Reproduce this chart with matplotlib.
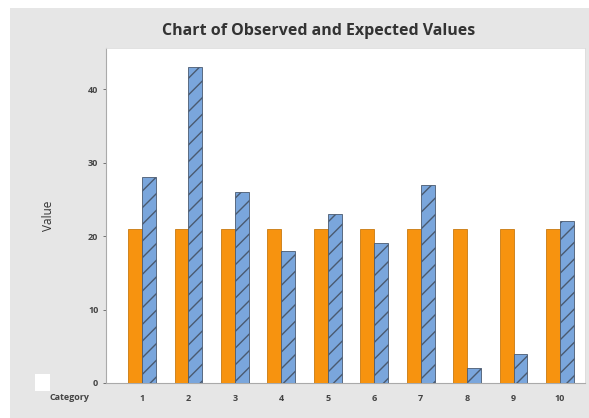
import matplotlib
matplotlib.use("Agg")
import matplotlib.pyplot as plt
from matplotlib.patches import Rectangle
import numpy as np

categories = ["1", "2", "3", "4", "5", "6", "7", "8", "9", "10"]
expected = [21, 21, 21, 21, 21, 21, 21, 21, 21, 21]
observed = [28, 43, 26, 18, 23, 19, 27, 2, 4, 22]
yticks = [0, 10, 20, 30, 40]

plt.rcParams["font.family"] = ["Open Sans", "DejaVu Sans"]
plt.rcParams["hatch.color"] = "#35506e"
plt.rcParams["hatch.linewidth"] = 1.0

W, H = 589, 418
fig = plt.figure(figsize=(W / 100, H / 100), dpi=100)
fig.patch.set_facecolor("white")
bg = Rectangle((10 / W, 0), 1 - 10 / W, 1 - 8 / H, transform=fig.transFigure,
               facecolor="#e6e6e6", edgecolor="none", zorder=-2)
fig.add_artist(bg)
box = Rectangle((35 / W, 1 - 391 / H), 15 / W, 17 / H, transform=fig.transFigure,
                facecolor="white", edgecolor="none", zorder=-1)
fig.add_artist(box)

ax = fig.add_axes([106 / W, 1 - 383 / H, (585 - 106) / W, (383 - 48) / H])
ax.set_zorder(5)
ax.set_facecolor("white")

x = np.arange(1, len(categories) + 1)
bw = 0.3
ax.bar(x - bw / 2, expected, width=bw, color="#f7930f", edgecolor="#c87a10", linewidth=0.6, zorder=3)
ax.bar(x + bw / 2, observed, width=bw, color="#7aa6dc", edgecolor="#4a5a70", linewidth=0.6,
       hatch="//", zorder=3)

ax.set_xlim(1 - 36 / 46.4, 10 + 25 / 46.4)
ax.set_ylim(0, (383 - 48) / 7.35)
ax.set_yticks(yticks)
ax.set_xticks(x)
ax.set_xticklabels(categories)
ax.tick_params(axis="both", labelsize=6.5, colors="#444444", length=2, width=0.5)
ax.tick_params(axis="x", length=0, pad=8)
for lbl in ax.get_xticklabels() + ax.get_yticklabels():
    lbl.set_fontweight("bold")
for s in ["left", "bottom"]:
    ax.spines[s].set_color("#aaaaaa")
    ax.spines[s].set_linewidth(0.8)
for s in ["top", "right"]:
    ax.spines[s].set_color("#dddddd")
    ax.spines[s].set_linewidth(0.6)

ax.set_ylabel("Value", fontsize=8.5, color="#333333", labelpad=24)
fig.text(70 / W, 1 - 397 / H, "Category", fontsize=6.5, color="#444444", ha="center", va="center",
         fontweight="bold")
fig.text(319 / W, 1 - 31 / H, "Chart of Observed and Expected Values", fontsize=11.5,
         fontweight="bold", color="#333333", ha="center", va="center")

fig.savefig("out.png", dpi=100, facecolor=fig.get_facecolor())
